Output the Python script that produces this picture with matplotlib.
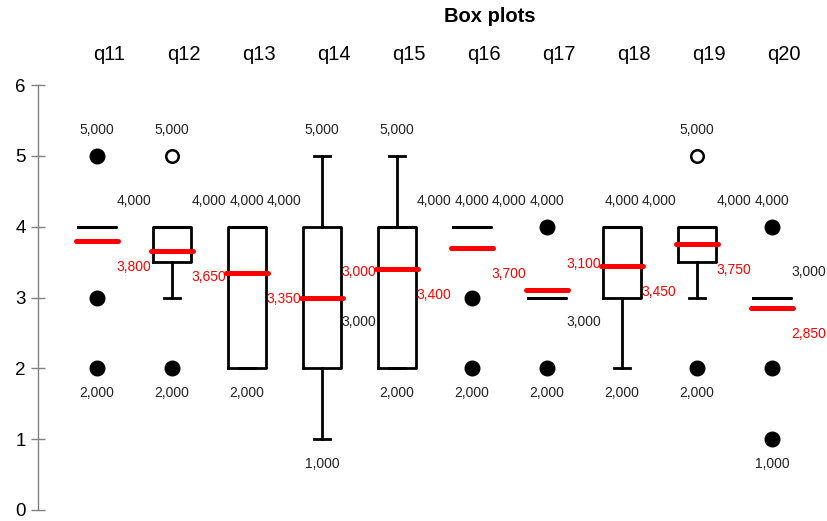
import numpy as np
import matplotlib
matplotlib.use('Agg')
import matplotlib.pyplot as plt

plt.rcParams['font.family'] = ['Liberation Sans', 'DejaVu Sans']

### data

categories = ['q11', 'q12', 'q13', 'q14', 'q15', 'q16', 'q17', 'q18', 'q19', 'q20']
q1 = [4, 3.5, 2, 2, 2, 4, 3, 3, 3.5, 3]
q3 = [4, 4, 4, 4, 4, 4, 3, 4, 4, 3]
medians = [4, 4, 4, 3, 4, 4, 3, 4, 4, 3]
means = [3.8, 3.65, 3.35, 3.0, 3.4, 3.7, 3.1, 3.45, 3.75, 2.85]
whisker_low = [4, 3, 2, 1, 2, 4, 3, 2, 3, 3]
whisker_high = [4, 4, 4, 5, 5, 4, 3, 4, 4, 3]
outliers = [[5, 3, 2], [2], [], [], [], [3, 2], [4, 2], [], [2], [4, 2, 1]]
far_outliers = [[], [5], [], [], [], [], [], [], [5], []]


def fmt(v):
    return ('%.3f' % v).replace('.', ',')


def label(ax, x, y, text, dx, dy, color='#222222'):
    ax.annotate(text, (x, y), xytext=(dx, dy), textcoords='offset pixels',
                ha='center', va='center', fontsize=10, color=color,
                annotation_clip=False)


def main():
    fig = plt.figure(figsize=(8.27, 5.21), dpi=100)
    ax = fig.add_axes([38 / 827, 11 / 521, 788 / 827, 425 / 521])

    positions = np.arange(1, len(categories) + 1)
    stats = []
    for i in range(len(categories)):
        stats.append({'med': medians[i], 'q1': q1[i], 'q3': q3[i],
                      'whislo': whisker_low[i], 'whishi': whisker_high[i],
                      'fliers': []})

    ax.bxp(stats, positions=positions, widths=0.5, capwidths=0.22,
           showfliers=False, showmeans=False,
           boxprops=dict(color='black', linewidth=2.0),
           whiskerprops=dict(color='black', linewidth=2.0),
           capprops=dict(color='black', linewidth=2.0),
           medianprops=dict(color='black', linewidth=2.2))

    ax.hlines(means, positions - 0.28, positions + 0.28, color='#ff0000',
              linewidth=3.6, zorder=4, capstyle='round')

    for i, pos in enumerate(positions):
        if outliers[i]:
            ax.plot([pos] * len(outliers[i]), outliers[i], 'o', color='black',
                    markersize=10.5, zorder=5)
        if far_outliers[i]:
            ax.plot([pos] * len(far_outliers[i]), far_outliers[i], 'o',
                    markerfacecolor='white', markeredgecolor='black',
                    markeredgewidth=1.8, markersize=9, zorder=5)

        values = [whisker_low[i], whisker_high[i]] + outliers[i] + far_outliers[i]
        top = max(values)
        bottom = min(values)
        label(ax, pos, top, fmt(top), 0, 26)
        label(ax, pos, bottom, fmt(bottom), 0, -25)

        # larger of mean/median gets its label above, the other below
        if means[i] >= medians[i]:
            label(ax, pos, means[i], fmt(means[i]), 37, 26, color='#ff0000')
            label(ax, pos, medians[i], fmt(medians[i]), 37, -25)
        else:
            label(ax, pos, medians[i], fmt(medians[i]), 37, 26)
            label(ax, pos, means[i], fmt(means[i]), 37, -26, color='#ff0000')

        ax.annotate(categories[i], (pos, 1), xycoords=('data', 'axes fraction'),
                    xytext=(12, 30), textcoords='offset pixels',
                    ha='center', va='center', fontsize=14.5, annotation_clip=False)

    ax.set_xlim(1 + (38 - 97) / 75, 1 + (826 - 97) / 75)
    ax.set_ylim(0, 6)
    ax.set_yticks(range(0, 7))
    ax.set_xticks([])
    for side in ['top', 'right', 'bottom']:
        ax.spines[side].set_visible(False)
    ax.spines['left'].set_color('#808080')
    ax.spines['left'].set_linewidth(1.0)
    ax.tick_params(axis='y', direction='inout', length=9.5, width=1.0,
                   color='#808080', labelsize=13.5, pad=4)

    fig.text(490 / 827, 1 - 17 / 521, 'Box plots', ha='center', va='center',
             fontsize=14.5, fontweight='bold')

    fig.savefig('out.png', dpi=100)


if __name__ == "__main__":

    main()
